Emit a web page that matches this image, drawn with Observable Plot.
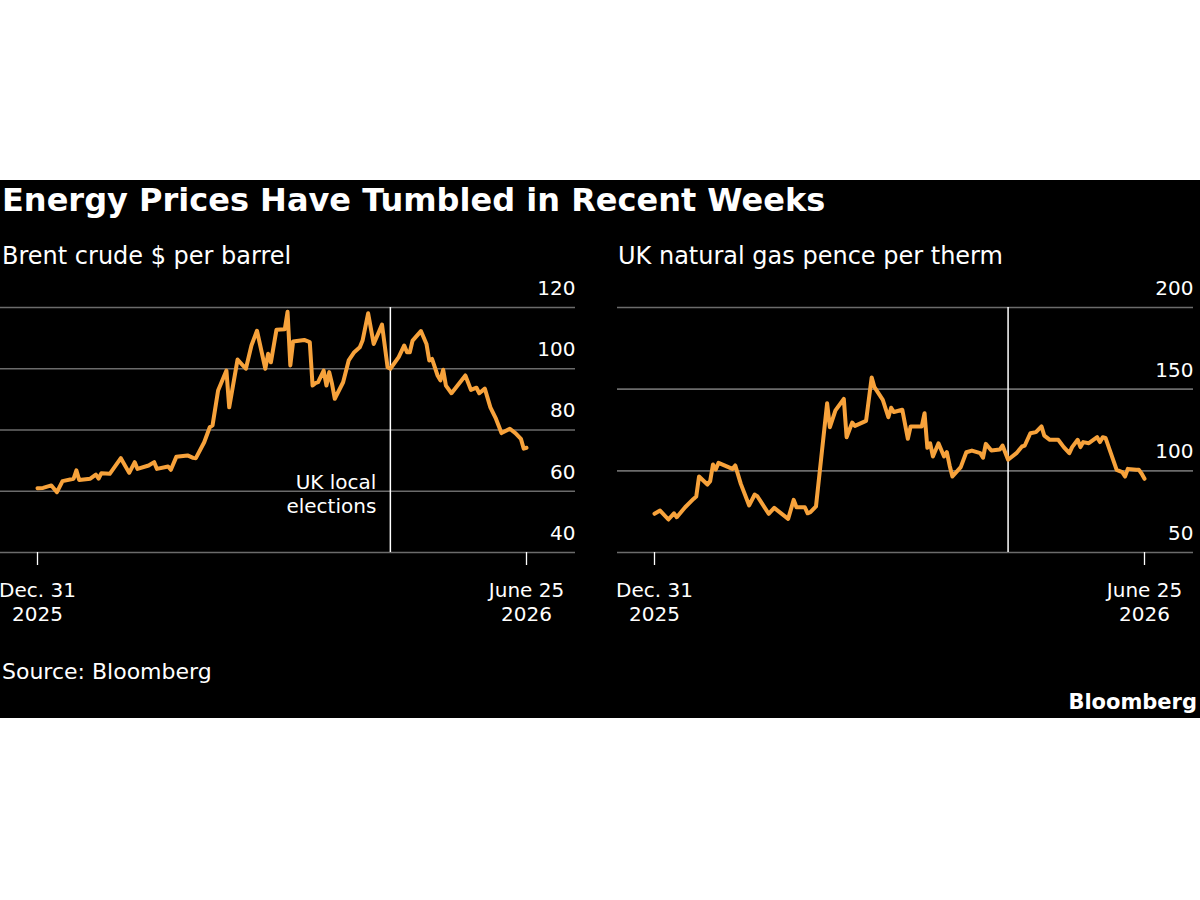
<!DOCTYPE html>
<html>
<head>
<meta charset="utf-8">
<script src="https://cdn.jsdelivr.net/npm/d3@7"></script>
<script src="https://cdn.jsdelivr.net/npm/@observablehq/plot@0.6"></script>
<style>
  body { margin: 0; background: #fff; width: 1200px; height: 900px; position: relative; font-family: "DejaVu Sans", sans-serif; }
  #panel { position: absolute; left: 0; top: 180px; width: 1200px; height: 538px; background: #000; color: #fff; }
  .t { position: absolute; white-space: nowrap; line-height: 1; }
  #title { left: 2px; top: 4px; font-size: 32px; font-weight: bold; }
  .sub { top: 64px; font-size: 24px; }
  #source { left: 2px; top: 481px; font-size: 22px; }
  #brand { right: 3px; top: 512px; font-size: 21px; font-weight: bold; }
  .chart { position: absolute; top: 90px; }
</style>
</head>
<body>
<div id="panel">
  <div id="title" class="t">Energy Prices Have Tumbled in Recent Weeks</div>
  <div class="t sub" style="left:2px">Brent crude $ per barrel</div>
  <div class="t sub" style="left:618px">UK natural gas pence per therm</div>
  <div id="left" class="chart" style="left:0"></div>
  <div id="right" class="chart" style="left:600px"></div>
  <div id="source" class="t">Source: Bloomberg</div>
  <div id="brand" class="t">Bloomberg</div>
</div>
<script>
// Brent crude, $ per barrel
const brentDates = [
  "2025-12-31","2026-01-02","2026-01-05","2026-01-07","2026-01-09","2026-01-13","2026-01-14","2026-01-15",
  "2026-01-19","2026-01-21","2026-01-22","2026-01-23","2026-01-26","2026-01-30","2026-02-02","2026-02-04",
  "2026-02-05","2026-02-09","2026-02-11","2026-02-12","2026-02-16","2026-02-17","2026-02-19","2026-02-23",
  "2026-02-25","2026-02-26","2026-03-01","2026-03-03","2026-03-04","2026-03-06","2026-03-09","2026-03-10",
  "2026-03-13","2026-03-16","2026-03-18","2026-03-20","2026-03-23","2026-03-24","2026-03-25","2026-03-27",
  "2026-03-30","2026-03-31","2026-04-01","2026-04-02","2026-04-06","2026-04-08","2026-04-09","2026-04-10",
  "2026-04-11","2026-04-13","2026-04-14","2026-04-15","2026-04-16","2026-04-17","2026-04-20","2026-04-22",
  "2026-04-24","2026-04-26","2026-04-27","2026-04-29","2026-05-01","2026-05-04","2026-05-06","2026-05-07",
  "2026-05-10","2026-05-12","2026-05-13","2026-05-14","2026-05-15","2026-05-18","2026-05-20","2026-05-21",
  "2026-05-22","2026-05-24","2026-05-25","2026-05-26","2026-05-27","2026-05-29","2026-06-03","2026-06-05",
  "2026-06-07","2026-06-08","2026-06-10","2026-06-12","2026-06-14","2026-06-16","2026-06-19","2026-06-21",
  "2026-06-23","2026-06-24","2026-06-25"
];
const brentValues = [
  61.0, 61.1, 61.9, 59.7, 63.3, 64.1, 66.8, 63.7,
  64.1, 65.4, 64.1, 65.9, 65.7, 70.8, 66.0, 69.5,
  67.3, 68.4, 69.5, 67.3, 68.1, 67.0, 71.3, 71.7,
  70.9, 70.8, 76.0, 80.9, 81.5, 92.9, 99.4, 87.4,
  103.0, 100.0, 107.6, 112.4, 100.0, 104.9, 102.1, 112.7,
  112.9, 118.6, 101.1, 108.9, 109.4, 108.7, 94.5, 95.3,
  95.6, 99.4, 94.5, 98.9, 95.1, 90.2, 95.6, 102.7,
  105.4, 107.0, 109.2, 118.1, 108.1, 114.4, 100.5, 100.0,
  103.8, 107.6, 105.4, 105.4, 109.2, 112.3, 108.1, 102.7,
  103.2, 97.8, 96.2, 99.7, 94.5, 92.0, 97.8, 93.1,
  93.8, 92.0, 93.5, 87.4, 83.7, 79.0, 80.4, 79.0,
  77.1, 73.9, 74.2
];

// UK natural gas, pence per therm
const gasDates = [
  "2025-12-31","2026-01-02","2026-01-05","2026-01-07","2026-01-08","2026-01-11","2026-01-14","2026-01-15",
  "2026-01-16","2026-01-19","2026-01-20","2026-01-21","2026-01-22","2026-01-23","2026-01-28","2026-01-29",
  "2026-01-31","2026-02-03","2026-02-05","2026-02-06","2026-02-10","2026-02-12","2026-02-17","2026-02-19",
  "2026-02-20","2026-02-23","2026-02-24","2026-02-25","2026-02-27","2026-03-03","2026-03-04","2026-03-06",
  "2026-03-09","2026-03-10","2026-03-12","2026-03-13","2026-03-17","2026-03-19","2026-03-20","2026-03-23",
  "2026-03-25","2026-03-26","2026-03-27","2026-03-30","2026-04-01","2026-04-02","2026-04-06","2026-04-07",
  "2026-04-08","2026-04-09","2026-04-10","2026-04-12","2026-04-14","2026-04-15","2026-04-16","2026-04-17",
  "2026-04-20","2026-04-22","2026-04-24","2026-04-27","2026-04-28","2026-04-29","2026-05-01","2026-05-04",
  "2026-05-05","2026-05-07","2026-05-10","2026-05-12","2026-05-13","2026-05-15","2026-05-17","2026-05-19",
  "2026-05-20","2026-05-22","2026-05-25","2026-05-27","2026-05-29","2026-05-30","2026-06-01","2026-06-02",
  "2026-06-03","2026-06-05","2026-06-08","2026-06-09","2026-06-10","2026-06-11","2026-06-13","2026-06-15",
  "2026-06-17","2026-06-18","2026-06-19","2026-06-22","2026-06-23","2026-06-24","2026-06-25"
];
const gasValues = [
  73.7, 75.7, 70.2, 74.0, 71.6, 77.7, 82.8, 84.3,
  96.5, 91.6, 93.7, 103.9, 100.8, 104.9, 101.2, 103.3,
  92.0, 78.8, 85.5, 84.3, 73.7, 77.3, 70.6, 82.2,
  77.7, 77.7, 74.0, 74.7, 78.2, 141.4, 126.7, 137.0,
  144.0, 120.6, 129.5, 127.5, 130.6, 157.2, 151.2, 143.4,
  132.8, 138.6, 136.0, 137.4, 119.6, 127.2, 127.2, 135.3,
  114.1, 116.9, 108.8, 116.9, 108.8, 111.4, 103.3, 96.5,
  102.3, 111.4, 112.4, 110.8, 108.0, 116.5, 112.4, 113.0,
  115.5, 106.8, 110.8, 114.9, 115.5, 123.0, 123.7, 127.2,
  121.6, 119.0, 119.0, 114.5, 110.8, 114.5, 119.0, 114.5,
  117.6, 116.9, 120.6, 117.6, 120.6, 120.2, 110.4, 100.6,
  99.2, 96.5, 101.2, 100.6, 100.6, 98.2, 95.1
];

// Axes and the marked event
const xTicks = ["2025-12-31", "2026-06-25"];
const xTickLabels = ["Dec. 31\n2025", "June 25\n2026"];
const brentTicks = [40, 60, 80, 100, 120];
const gasTicks = [50, 100, 150, 200];
const eventDate = "2026-05-07";
const eventLabel = "UK local\nelections";

const lineColor = "#f7a23b";
const gridColor = "#6b6b6b";

function drawPanel({dates, values, yDomain, yTicks, marginLeft, marginRight, label}) {
  const data = dates.map((d, i) => ({date: new Date(d), value: values[i]}));
  const tickDates = xTicks.map(d => new Date(d));
  const event = [{date: new Date(eventDate), text: label}];
  const marks = [
    Plot.ruleY(yTicks, {stroke: gridColor, strokeWidth: 1.6}),
    Plot.axisY(yTicks, {
      anchor: "right", tickSize: 0, tickPadding: 0, textAnchor: "end",
      dy: -19, fill: "#fff", label: null
    }),
    Plot.axisX(tickDates, {
      anchor: "bottom", tickSize: 13, tickPadding: 14, stroke: "#fff", fill: "#fff",
      strokeWidth: 1.3, lineHeight: 1.2, label: null,
      tickFormat: d => xTickLabels[tickDates.findIndex(t => +t === +d)]
    }),
    Plot.ruleX(event, {x: "date", stroke: "#fff", strokeWidth: 1.5}),
    Plot.lineY(data, {
      x: "date", y: "value", stroke: lineColor, strokeWidth: 4,
      strokeLinejoin: "round", strokeLinecap: "round"
    })
  ];
  if (label) {
    marks.push(Plot.text(event, {
      x: "date", frameAnchor: "bottom", text: "text", textAnchor: "end",
      lineAnchor: "top", lineHeight: 1.22, dx: -14, dy: -81, fill: "#fff", fontSize: 20
    }));
  }
  return Plot.plot({
    width: 600,
    height: 362,
    marginTop: 37,
    marginBottom: 80,
    marginLeft,
    marginRight,
    style: {background: "transparent", color: "#fff", fontFamily: "DejaVu Sans", fontSize: "20px", overflow: "visible"},
    x: {type: "utc", domain: [tickDates[0], tickDates[1]], insetLeft: 37, insetRight: 49},
    y: {domain: yDomain},
    marks
  });
}

document.getElementById("left").append(drawPanel({
  dates: brentDates, values: brentValues, yDomain: [40, 120], yTicks: brentTicks,
  marginLeft: 0, marginRight: 25, label: eventLabel
}));
document.getElementById("right").append(drawPanel({
  dates: gasDates, values: gasValues, yDomain: [50, 200], yTicks: gasTicks,
  marginLeft: 17, marginRight: 7, label: null
}));
</script>
</body>
</html>
